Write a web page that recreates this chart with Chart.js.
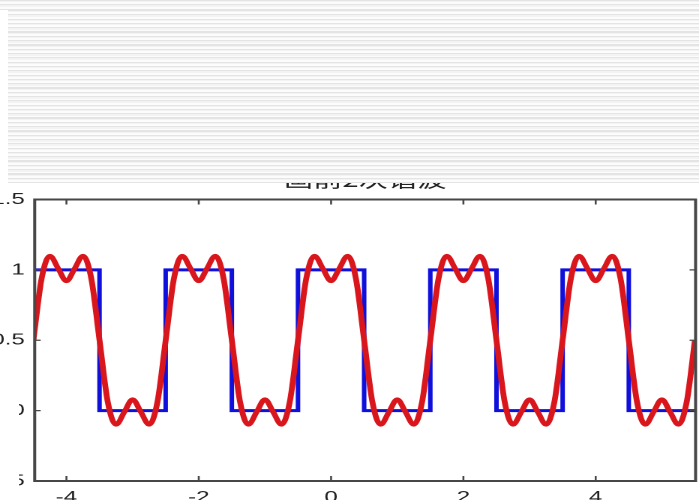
<!DOCTYPE html>
<html><head><meta charset="utf-8">
<script src="https://cdn.jsdelivr.net/npm/chart.js@4/dist/chart.umd.min.js"></script>
<style>
html,body{margin:0;padding:0;background:#fff;overflow:hidden;width:699px;height:500px;}
#wrap{position:absolute;left:0;top:0;width:466px;height:520px;transform:scaleX(1.5);transform-origin:0 0;}
.st{position:absolute;z-index:2;background:repeating-linear-gradient(to bottom,#e4e4e4 0px,#e4e4e4 1.1px,#f3f3f3 1.1px,#f3f3f3 2.5px,#fcfcfc 2.5px,#fcfcfc 4.3px);}
#stripesTop{left:0;top:0;width:699px;height:10px;}
#stripes{left:8px;top:10px;width:691px;height:173px;}
#mask{position:absolute;z-index:2;left:0;top:392px;width:19px;height:108px;background:#fff;}
</style></head>
<body>
<div id="wrap"><canvas id="c" width="466" height="520"></canvas></div>
<div id="stripesTop" class="st"></div><div id="stripes" class="st"></div><div id="mask"></div>
<script>
const titleText = '画前2次谐波';
const xTickValues = [-4, -2, 0, 2, 4];
const xTickLabels = ['-4', '-2', '0', '2', '4'];
const yTickValues = [-0.5, 0, 0.5, 1, 1.5];
const yTickLabels = ['-0.5', '0', '0.5', '1', '1.5'];

// blue square wave (corner points)
const squareX = [-4.5, -3.5, -3.5, -2.5, -2.5, -1.5, -1.5, -0.5, -0.5, 0.5, 0.5, 1.5, 1.5, 2.5, 2.5, 3.5, 3.5, 4.5, 4.5, 5.6];
const squareY = [1, 1, 0, 0, 1, 1, 0, 0, 1, 1, 0, 0, 1, 1, 0, 0, 1, 1, 0, 0];

// red curve
const fourierX = [-4.5,-4.375,-4.25,-4.125,-4,-3.875,-3.75,-3.625,-3.5,-3.375,-3.25,-3.125,-3,-2.875,-2.75,-2.625,-2.5,-2.375,-2.25,-2.125,-2,-1.875,-1.75,-1.625,-1.5,-1.375,-1.25,-1.125,-1,-0.875,-0.75,-0.625,-0.5,-0.375,-0.25,-0.125,0,0.125,0.25,0.375,0.5,0.625,0.75,0.875,1,1.125,1.25,1.375,1.5,1.625,1.75,1.875,2,2.125,2.25,2.375,2.5,2.625,2.75,2.875,3,3.125,3.25,3.375,3.5,3.625,3.75,3.875,4,4.125,4.25,4.375,4.5,4.625,4.75,4.875,5,5.125,5.25,5.375,5.5];
const fourierY = [0.50,0.94,1.10,1.01,
 0.92,1.01,1.10,0.94,0.50,0.06,-0.10,-0.01,0.08,-0.01,-0.10,0.06,0.50,0.94,1.10,1.01,
 0.92,1.01,1.10,0.94,0.50,0.06,-0.10,-0.01,0.08,-0.01,-0.10,0.06,0.50,0.94,1.10,1.01,
 0.92,1.01,1.10,0.94,0.50,0.06,-0.10,-0.01,0.08,-0.01,-0.10,0.06,0.50,0.94,1.10,1.01,
 0.92,1.01,1.10,0.94,0.50,0.06,-0.10,-0.01,0.08,-0.01,-0.10,0.06,0.50,0.94,1.10,1.01,
 0.92,1.01,1.10,0.94,0.50,0.06,-0.10,-0.01,0.08,-0.01,-0.10,0.06,0.50];

const X_MIN = -4.48, X_MAX = 5.51, Y_MIN = -0.5, Y_MAX = 1.5;

const framePlugin = {
  id: 'frame',
  afterDatasetsDraw(chart) {
    const {ctx, chartArea: a, scales: {x, y}} = chart;
    ctx.save();
    ctx.strokeStyle = '#474747';
    ctx.lineWidth = 2;
    ctx.strokeRect(a.left, a.top, a.right - a.left, a.bottom - a.top);
    ctx.lineWidth = 1.3;
    ctx.beginPath();
    xTickValues.forEach(v => {
      const px = x.getPixelForValue(v);
      ctx.moveTo(px, a.bottom); ctx.lineTo(px, a.bottom - 5);
      ctx.moveTo(px, a.top); ctx.lineTo(px, a.top + 5);
    });
    yTickValues.forEach(v => {
      const py = y.getPixelForValue(v);
      ctx.moveTo(a.left, py); ctx.lineTo(a.left + 4, py);
      ctx.moveTo(a.right, py); ctx.lineTo(a.right - 4, py);
    });
    ctx.stroke();
    ctx.restore();
  }
};

const tickFont = {family: '"Liberation Sans", Arial, sans-serif', size: 16};

new Chart(document.getElementById('c'), {
  type: 'line',
  data: {
    datasets: [
      {
        label: 'harmonics',
        data: fourierX.map((v, i) => ({x: v, y: fourierY[i]})),
        borderColor: '#d8161c',
        borderWidth: 3.9,
        pointRadius: 0,
        cubicInterpolationMode: 'monotone',
        fill: false
      },
      {
        label: 'square',
        data: squareX.map((v, i) => ({x: v, y: squareY[i]})),
        borderColor: '#1010dc',
        borderWidth: 3,
        pointRadius: 0,
        tension: 0,
        fill: false
      }
    ]
  },
  options: {
    responsive: false,
    devicePixelRatio: 2,
    animation: false,
    layout: {padding: {left: 0, right: 2.27, top: 0, bottom: 0}},
    plugins: {
      legend: {display: false},
      tooltip: {enabled: false},
      title: {
        display: true,
        text: titleText,
        fullSize: false,
        color: '#222',
        font: {family: '"Noto Sans CJK SC", sans-serif', size: 19.5, weight: 'normal', lineHeight: 1.2},
        padding: {top: 168, bottom: 8.1}
      }
    },
    scales: {
      x: {
        type: 'linear',
        min: X_MIN, max: X_MAX,
        grid: {display: false, drawTicks: false},
        border: {display: false},
        afterBuildTicks: s => { s.ticks = xTickValues.map(v => ({value: v})); },
        afterFit: s => { s.height = 39; },
        ticks: {
          padding: 7,
          color: '#222',
          font: tickFont,
          maxRotation: 0,
          callback: (v, i) => xTickLabels[i]
        }
      },
      y: {
        type: 'linear',
        min: Y_MIN, max: Y_MAX,
        grid: {display: false, drawTicks: false},
        border: {display: false},
        afterBuildTicks: s => { s.ticks = yTickValues.map(v => ({value: v})); },
        afterFit: s => { s.width = 23.13; },
        ticks: {
          padding: 6.6,
          color: '#222',
          font: tickFont,
          callback: (v, i) => yTickLabels[i]
        }
      }
    }
  },
  plugins: [framePlugin]
});
</script>
</body></html>
